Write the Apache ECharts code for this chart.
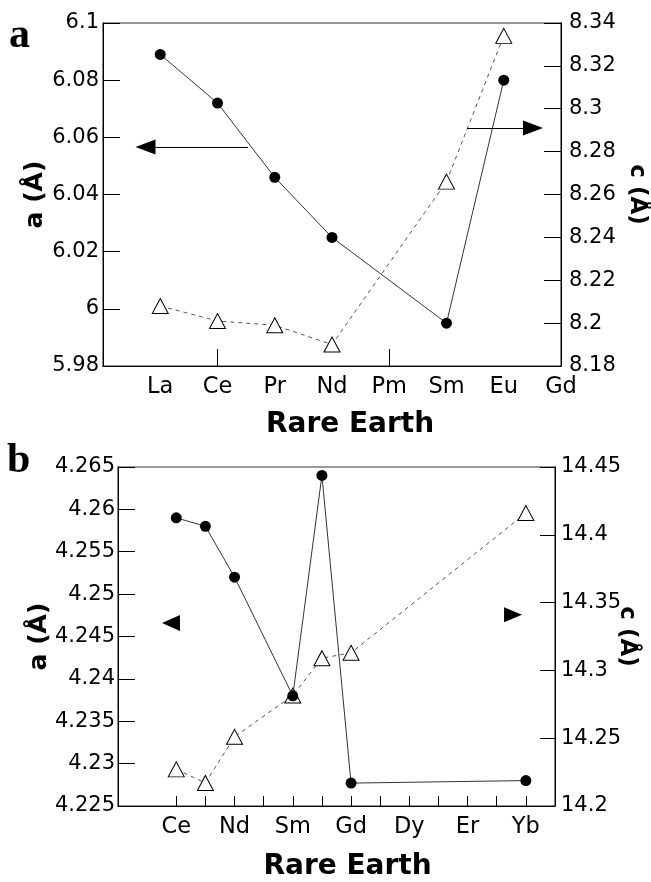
<!DOCTYPE html>
<html>
<head>
<meta charset="utf-8">
<script src="https://cdn.jsdelivr.net/npm/echarts@6/dist/echarts.min.js"></script>
<style>
  html, body { margin: 0; padding: 0; background: #fff; }
  #chart { width: 651px; height: 882px; }
</style>
</head>
<body>
<div id="chart"></div>
<script>
// panel a: La..Gd sit at x = 1..8
var elemA = ['La', 'Ce', 'Pr', 'Nd', 'Pm', 'Sm', 'Eu', 'Gd'];
var tickElemA = ['Ce', 'Pm'];
var aLatA = [6.089, 6.072, 6.046, 6.025, null, 5.995, 6.080, null];
var cLatA = [8.208, 8.201, 8.199, 8.190, null, 8.266, 8.334, null];

// panel b: Ce..Yb sit at x = 2..14
var elemB = ['Ce', 'Pr', 'Nd', 'Pm', 'Sm', 'Eu', 'Gd', 'Tb', 'Dy', 'Ho', 'Er', 'Tm', 'Yb'];
var labelElemB = ['Ce', 'Nd', 'Sm', 'Gd', 'Dy', 'Er', 'Yb'];
var aLatB = [4.259, 4.258, 4.252, null, 4.238, 4.264, 4.2277, null, null, null, null, null, 4.228];
var cLatB = [14.227, 14.217, 14.251, null, 14.2815, 14.309, 14.313, null, null, null, null, null, 14.416];

var FONT = 'DejaVu Sans';

function pairs(vals, offset) {
  var out = [];
  vals.forEach(function (v, i) {
    if (v !== null) out.push([i + offset, v]);
  });
  return out;
}

var numLabel = { color: '#000', fontFamily: FONT, fontSize: 21 };
var elemLabel = { color: '#000', fontFamily: FONT, fontSize: 22.5 };
var nameBold = { color: '#000', fontFamily: FONT, fontWeight: 'bold' };
var blackLine = { lineStyle: { color: '#000', width: 1 } };

function yAxis(grid, pos, min, max, step, margin, name, gap, rot, nameSize, tickLen) {
  return {
    type: 'value', gridIndex: grid, position: pos,
    min: min, max: max, interval: step,
    splitLine: { show: false },
    axisLine: { show: true, lineStyle: { color: '#000', width: 1 } },
    axisTick: { show: true, inside: true, length: tickLen, lineStyle: { color: '#000', width: 1 } },
    axisLabel: Object.assign({ margin: margin }, numLabel),
    name: name, nameLocation: 'middle', nameGap: gap, nameRotate: rot,
    nameMoveOverlap: false,
    nameTextStyle: Object.assign({ fontSize: nameSize }, nameBold)
  };
}

var dotStyle = {
  type: 'line', symbol: 'circle', symbolSize: 11,
  itemStyle: { color: '#000' },
  lineStyle: { color: '#333', width: 1 },
  silent: true, z: 3
};
var triStyle = {
  type: 'line', symbol: 'triangle', symbolSize: [16, 15],
  itemStyle: { color: '#fff', borderColor: '#000', borderWidth: 1 },
  lineStyle: { color: '#555', width: 1, type: [4, 4] },
  silent: true, z: 2
};

function arrow(from, to, head, rot, size) {
  return {
    markLine: {
      silent: true, symbol: ['none', 'none'], label: { show: false },
      lineStyle: { color: '#000', width: 1, type: 'solid' },
      data: from ? [[{ coord: from }, { coord: to }]] : []
    },
    markPoint: {
      silent: true, symbol: 'triangle', symbolSize: size, symbolRotate: rot,
      itemStyle: { color: '#000' }, label: { show: false },
      data: [{ coord: head }]
    }
  };
}

var chart = echarts.init(document.getElementById('chart'));
chart.setOption({
  animation: false,
  title: [
    { text: 'a', left: 9, top: 15, padding: 0,
      textStyle: { fontFamily: 'Liberation Serif', fontWeight: 'bold', fontSize: 42, color: '#000' } },
    { text: 'b', left: 7, top: 440, padding: 0,
      textStyle: { fontFamily: 'Liberation Serif', fontWeight: 'bold', fontSize: 42, color: '#000' } }
  ],
  grid: [
    { left: 103, top: 23, width: 458, height: 343, show: true, borderColor: '#333', borderWidth: 1.2, outerBoundsMode: 'none' },
    { left: 118, top: 467, width: 437, height: 339, show: true, borderColor: '#333', borderWidth: 1.2, outerBoundsMode: 'none' }
  ],
  xAxis: [
    {
      type: 'value', gridIndex: 0, min: 0, max: 8, interval: 1,
      splitLine: { show: false },
      axisLine: blackLine,
      axisTick: {
        show: true, inside: true, length: 17, lineStyle: { color: '#000', width: 1 },
        customValues: tickElemA.map(function (n) { return elemA.indexOf(n) + 1; })
      },
      axisLabel: Object.assign({
        margin: 10,
        customValues: elemA.map(function (n, i) { return i + 1; }),
        formatter: function (v) { return elemA[Math.round(v) - 1] || ''; }
      }, elemLabel),
      name: 'Rare Earth', nameLocation: 'middle', nameGap: 45, nameMoveOverlap: false,
      nameTextStyle: Object.assign({ fontSize: 28, padding: [0, 0, 0, 36] }, nameBold)
    },
    {
      type: 'value', gridIndex: 1, min: 0, max: 15, interval: 1,
      splitLine: { show: false },
      axisLine: blackLine,
      axisTick: {
        show: true, inside: true, length: 10, lineStyle: { color: '#000', width: 1 },
        customValues: elemB.map(function (n, i) { return i + 2; })
      },
      axisLabel: Object.assign({
        margin: 10,
        customValues: labelElemB.map(function (n) { return elemB.indexOf(n) + 2; }),
        formatter: function (v) { return elemB[Math.round(v) - 2] || ''; }
      }, elemLabel),
      name: 'Rare Earth', nameLocation: 'middle', nameGap: 47, nameMoveOverlap: false,
      nameTextStyle: Object.assign({ fontSize: 28, padding: [0, 0, 0, 22] }, nameBold)
    }
  ],
  yAxis: [
    yAxis(0, 'left', 5.98, 6.1, 0.02, 4, 'a (Å)', 55, 90, 25, 17),
    yAxis(0, 'right', 8.18, 8.34, 0.02, 8, 'c (Å)', 64, -90, 23, 17),
    yAxis(1, 'left', 4.225, 4.265, 0.005, 3, 'a (Å)', 66, 90, 25, 17),
    yAxis(1, 'right', 14.2, 14.45, 0.05, 6, 'c (Å)', 60, -90, 23, 15)
  ],
  series: [
    Object.assign({ name: 'c a-panel', xAxisIndex: 0, yAxisIndex: 1, data: pairs(cLatA, 1) }, triStyle,
      arrow([6.358, 8.291], [7.4, 8.291], [7.511, 8.291], -90, [15, 20])),
    Object.assign({ name: 'a a-panel', xAxisIndex: 0, yAxisIndex: 0, data: pairs(aLatA, 1) }, dotStyle,
      arrow([2.533, 6.0566], [0.8, 6.0566], [0.742, 6.0566], 90, [15, 20])),
    Object.assign({ name: 'c b-panel', xAxisIndex: 1, yAxisIndex: 3, data: pairs(cLatB, 2) }, triStyle,
      arrow(null, null, [13.56, 14.341], -90, [15, 18])),
    Object.assign({ name: 'a b-panel', xAxisIndex: 1, yAxisIndex: 2, data: pairs(aLatB, 2) }, dotStyle,
      arrow(null, null, [1.82, 4.2466], 90, [16, 18]))
  ]
});
</script>
</body>
</html>
